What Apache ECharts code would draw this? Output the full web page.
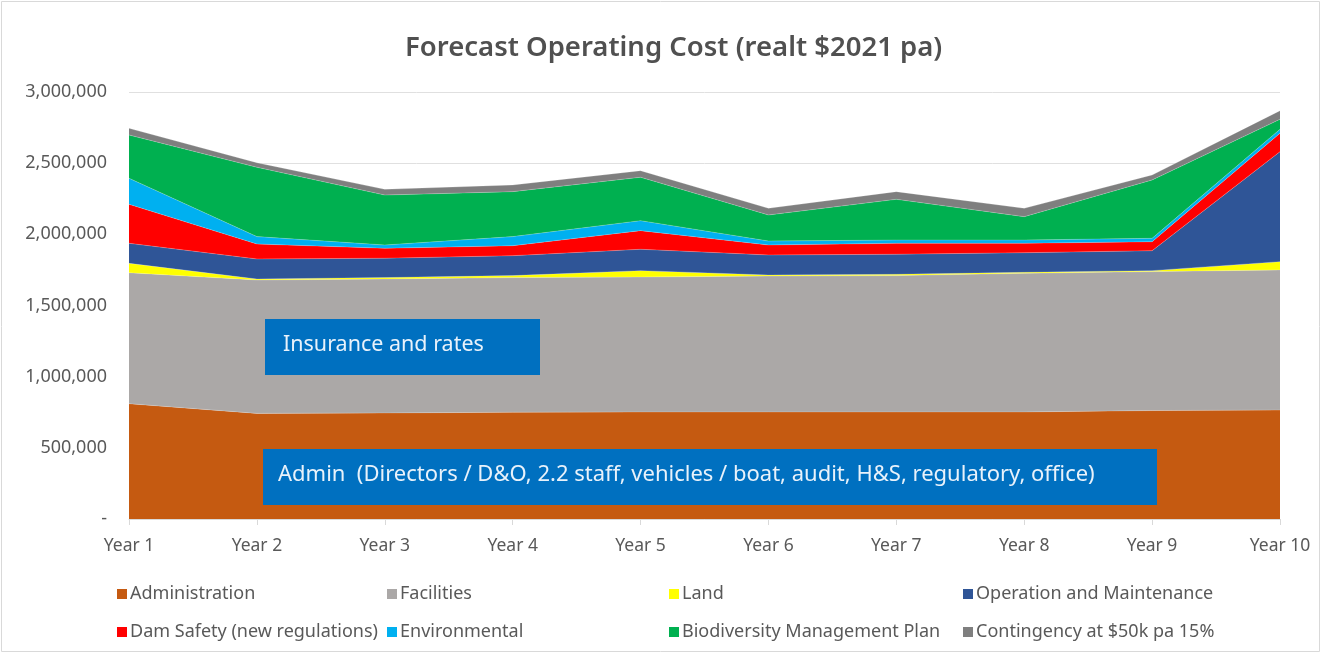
<!DOCTYPE html>
<html>
<head>
<meta charset="utf-8">
<script src="https://cdn.jsdelivr.net/npm/echarts@6/dist/echarts.min.js"></script>
<style>
  html, body { margin: 0; padding: 0; background: #fff; }
  #chart { width: 1324px; height: 655px; }
</style>
</head>
<body>
<div id="chart"></div>
<script>
// values, in dollars per year
const years = ['Year 1', 'Year 2', 'Year 3', 'Year 4', 'Year 5', 'Year 6', 'Year 7', 'Year 8', 'Year 9', 'Year 10'];
const administration = [810000, 742000, 745000, 750000, 752000, 752000, 752000, 752000, 762000, 765000];
const facilities = [920000, 937000, 941000, 946000, 948000, 955000, 958000, 974000, 976000, 985000];
const land = [66000, 7000, 10000, 14000, 45000, 7000, 9000, 7000, 7000, 58000];
const operationMaintenance = [141000, 141000, 136000, 140000, 150000, 141000, 141000, 138000, 140000, 773000];
const damSafety = [274000, 105000, 70000, 70000, 131000, 70000, 77000, 66000, 63000, 129000];
const environmental = [183000, 52000, 23000, 64000, 70000, 28000, 23000, 23000, 24000, 28000];
const biodiversity = [304000, 487000, 351000, 316000, 305000, 183000, 286000, 164000, 410000, 70000];
const contingency = [47000, 32000, 40000, 47000, 46000, 47000, 54000, 59000, 35000, 61000];

const seriesDefs = [
  { name: 'Administration', data: administration, color: '#C55A11' },
  { name: 'Facilities', data: facilities, color: '#ABA8A7' },
  { name: 'Land', data: land, color: '#FFFF00' },
  { name: 'Operation and Maintenance', data: operationMaintenance, color: '#2F5597' },
  { name: 'Dam Safety (new regulations)', data: damSafety, color: '#FF0000' },
  { name: 'Environmental', data: environmental, color: '#00B0F0' },
  { name: 'Biodiversity Management Plan', data: biodiversity, color: '#00B050' },
  { name: 'Contingency at $50k pa 15%', data: contingency, color: '#7F7F7F' },
];

const font = '"Noto Sans", sans-serif';
const textGrey = '#595959';

// legend laid out in 4 columns x 2 rows like the Excel original
const legendCols = [112, 382, 664, 958];
const legendRows = [580, 618];
const legends = seriesDefs.map((s, i) => ({
  data: [s.name],
  left: legendCols[i % 4],
  top: legendRows[Math.floor(i / 4)],
  itemWidth: 10,
  itemHeight: 10,
  itemGap: 0,
  icon: 'rect',
  selectedMode: false,
  textStyle: { color: textGrey, fontSize: 18, fontFamily: font, padding: [0, 0, 0, -2] },
}));

const chart = echarts.init(document.getElementById('chart'));

chart.setOption({
  animation: false,
  title: {
    text: 'Forecast Operating Cost (realt $2021 pa)',
    left: 400,
    top: 29,
    textStyle: { color: '#505050', fontSize: 27.5, fontWeight: 600, fontFamily: font },
  },
  legend: legends,
  grid: { left: 129, right: 44, top: 92, bottom: 136 },
  xAxis: {
    type: 'category',
    data: years,
    boundaryGap: false,
    axisLine: { lineStyle: { color: '#D9D9D9' } },
    axisTick: { show: true, length: 6, lineStyle: { color: '#D9D9D9' } },
    axisLabel: { color: textGrey, fontSize: 17.5, fontFamily: font, margin: 18 },
  },
  yAxis: {
    type: 'value',
    min: 0,
    max: 3000000,
    interval: 500000,
    axisLine: { show: false },
    axisTick: { show: false },
    splitLine: { lineStyle: { color: '#E0E0E0' } },
    axisLabel: {
      color: textGrey,
      fontSize: 18,
      fontFamily: font,
      margin: 22,
      formatter: (v) => (v === 0 ? '-' : v.toLocaleString('en-US')),
    },
  },
  series: seriesDefs.map((s) => ({
    name: s.name,
    type: 'line',
    stack: 'cost',
    data: s.data,
    symbol: 'none',
    color: s.color,
    lineStyle: { width: 0.6, color: 'rgba(255,255,255,0.35)' },
    areaStyle: { color: s.color, opacity: 1 },
  })),
  graphic: [
    {
      type: 'rect',
      z: 100,
      shape: { x: 1.5, y: 1.5, width: 1318, height: 650 },
      style: { fill: 'none', stroke: '#D9D9D9', lineWidth: 1 },
      silent: true,
    },
    {
      type: 'rect',
      z: 100,
      shape: { x: 265, y: 319, width: 275, height: 56 },
      style: { fill: '#0070C0' },
    },
    {
      type: 'text',
      z: 101,
      x: 283,
      y: 345,
      style: {
        text: 'Insurance and rates',
        fill: '#E8F2FB',
        fontSize: 21.5,
        fontFamily: font,
        verticalAlign: 'middle',
      },
    },
    {
      type: 'rect',
      z: 100,
      shape: { x: 263, y: 449, width: 894, height: 56 },
      style: { fill: '#0070C0' },
    },
    {
      type: 'text',
      z: 101,
      x: 278,
      y: 475,
      style: {
        text: 'Admin  (Directors / D&O, 2.2 staff, vehicles / boat, audit, H&S, regulatory, office)',
        fill: '#E8F2FB',
        fontSize: 22,
        fontFamily: font,
        verticalAlign: 'middle',
      },
    },
  ],
});
</script>
</body>
</html>
